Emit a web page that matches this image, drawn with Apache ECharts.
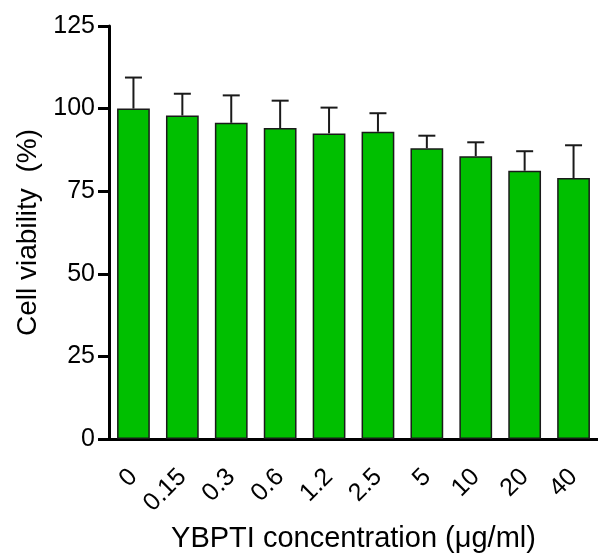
<!DOCTYPE html>
<html>
<head>
<meta charset="utf-8">
<script src="https://cdn.jsdelivr.net/npm/echarts@6/dist/echarts.min.js"></script>
<style>
  html, body { margin: 0; padding: 0; background: #fff; }
  #chart { width: 598px; height: 558px; }
</style>
</head>
<body>
<div id="chart"></div>
<script>
const concentrations = ['0', '0.15', '0.3', '0.6', '1.2', '2.5', '5', '10', '20', '40']
const viability = [100, 97.9, 95.7, 94.1, 92.5, 93.0, 88.0, 85.6, 81.2, 79.0]
const sd = [9.4, 6.6, 8.3, 8.3, 7.8, 5.6, 3.8, 4.2, 5.9, 9.9]
const yTicks = [0, 25, 50, 75, 100, 125]

const FONT = "'Liberation Sans', Arial, sans-serif"

const chart = echarts.init(document.getElementById('chart'), null, { renderer: 'canvas' })

const errorData = viability.map((v, i) => [i, v, v + sd[i]])

chart.setOption({
  animation: false,
  backgroundColor: '#fff',
  grid: { left: 109, right: 0, top: 26, bottom: 115, containLabel: false },
  xAxis: {
    type: 'category',
    data: concentrations,
    name: 'YBPTI concentration (μg/ml)',
    nameLocation: 'middle',
    nameGap: 85,
    nameTextStyle: { fontFamily: FONT, fontSize: 29, color: '#000' },
    axisLine: { lineStyle: { color: '#000', width: 3 } },
    axisTick: { alignWithLabel: true, length: 10, lineStyle: { color: '#000', width: 3 } },
    axisLabel: { rotate: 45, margin: 34, fontFamily: FONT, fontSize: 25, color: '#000' },
  },
  yAxis: {
    type: 'value',
    min: 0,
    max: 125,
    interval: 25,
    name: 'Cell viability  (%)',
    nameLocation: 'middle',
    nameGap: 64,
    nameTextStyle: { fontFamily: FONT, fontSize: 28, color: '#000' },
    axisLine: { show: true, lineStyle: { color: '#000', width: 3 } },
    axisTick: { show: true, length: 11, lineStyle: { color: '#000', width: 3 } },
    axisLabel: {
      margin: 14, fontFamily: FONT, fontSize: 25, color: '#000',
      formatter: (v) => (yTicks.includes(v) ? String(v) : ''),
    },
    splitLine: { show: false },
  },
  series: [
    {
      type: 'bar',
      data: viability,
      barCategoryGap: '33%',
      itemStyle: { color: '#00bf00', borderColor: '#1a1a1a', borderWidth: 1.5 },
      z: 2,
    },
    {
      type: 'custom',
      data: errorData,
      z: 1,
      renderItem: (params, api) => {
        const base = api.coord([api.value(0), api.value(1)])
        const top = api.coord([api.value(0), api.value(2)])
        const half = 8.5
        const style = { stroke: '#1a1a1a', lineWidth: 2 }
        return {
          type: 'group',
          children: [
            { type: 'line', shape: { x1: base[0], y1: base[1], x2: top[0], y2: top[1] }, style },
            { type: 'line', shape: { x1: top[0] - half, y1: top[1], x2: top[0] + half, y2: top[1] }, style },
          ],
        }
      },
    },
  ],
})
</script>
</body>
</html>
